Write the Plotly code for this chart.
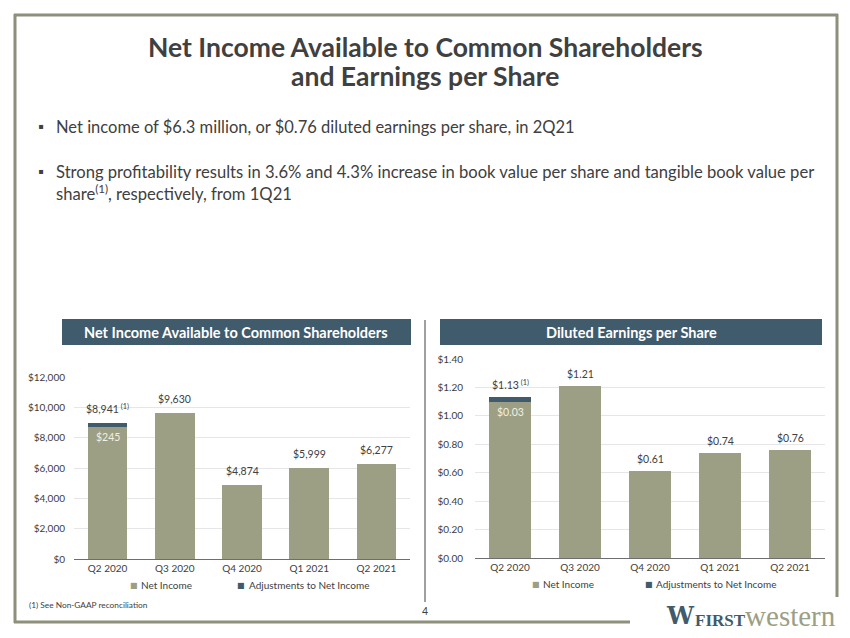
import plotly.graph_objects as go

W, H = 850, 638

# ---------------- data ----------------
quarters = ["Q2 2020", "Q3 2020", "Q4 2020", "Q1 2021", "Q2 2021"]
ni_net_income = [8696, 9630, 4874, 5999, 6277]
ni_adjustments = [245, 0, 0, 0, 0]
ni_totals = [8941, 9630, 4874, 5999, 6277]
eps_net_income = [1.10, 1.21, 0.61, 0.74, 0.76]
eps_adjustments = [0.03, 0, 0, 0, 0]
eps_totals = [1.13, 1.21, 0.61, 0.74, 0.76]
series_names = ["Net Income", "Adjustments to Net Income"]

OLIVE = "#9c9f84"
SLATE = "#3f5b6c"
TXT = "#404040"
FRAME = "#8e907b"
FONT = "Lato"


def px(x):
    return x / W


def py(y):
    return 1 - y / H


fig = go.Figure()

# left chart
fig.add_trace(go.Bar(x=quarters, y=ni_net_income, name=series_names[0], marker_color=OLIVE,
                     xaxis="x", yaxis="y", showlegend=False, hoverinfo="skip"))
fig.add_trace(go.Bar(x=quarters, y=ni_adjustments, name=series_names[1], marker_color=SLATE,
                     xaxis="x", yaxis="y", showlegend=False, hoverinfo="skip"))
# right chart
fig.add_trace(go.Bar(x=quarters, y=eps_net_income, name=series_names[0], marker_color=OLIVE,
                     xaxis="x2", yaxis="y2", showlegend=False, hoverinfo="skip"))
fig.add_trace(go.Bar(x=quarters, y=eps_adjustments, name=series_names[1], marker_color=SLATE,
                     xaxis="x2", yaxis="y2", showlegend=False, hoverinfo="skip"))

annotations = []


def note(x, y, text, size, color=TXT, xanchor="center", yanchor="middle", family=FONT, **kw):
    annotations.append(dict(x=px(x), y=py(y), xref="paper", yref="paper", showarrow=False,
                            xanchor=xanchor, yanchor=yanchor, text=text,
                            font=dict(family=family, size=size, color=color), **kw))


# value labels above bars
lab_font = dict(family=FONT, size=10.5, color=TXT)
for i, q in enumerate(quarters):
    t = f"${ni_totals[i]:,}"
    if ni_adjustments[i]:
        t += "<sup> (1)</sup>"
    annotations.append(dict(x=q, y=ni_totals[i], xref="x", yref="y", text=t, showarrow=False,
                            xanchor="center", yanchor="bottom", yshift=6, font=lab_font))
    t2 = f"${eps_totals[i]:.2f}"
    if eps_adjustments[i]:
        t2 += "<sup> (1)</sup>"
    annotations.append(dict(x=q, y=eps_totals[i], xref="x2", yref="y2", text=t2, showarrow=False,
                            xanchor="center", yanchor="bottom", yshift=4, font=lab_font))
    if ni_adjustments[i]:
        annotations.append(dict(x=q, y=ni_net_income[i], xref="x", yref="y",
                                text=f"${ni_adjustments[i]:,}", showarrow=False,
                                xanchor="center", yanchor="top", yshift=-2,
                                font=dict(family=FONT, size=10.5, color="#f2f0e0")))
    if eps_adjustments[i]:
        annotations.append(dict(x=q, y=eps_net_income[i], xref="x2", yref="y2",
                                text=f"${eps_adjustments[i]:.2f}", showarrow=False,
                                xanchor="center", yanchor="top", yshift=-2,
                                font=dict(family=FONT, size=10.5, color="#f2f0e0")))

# title
note(425, 47, "<b>Net Income Available to Common Shareholders</b>", 26.5)
note(425, 76, "<b>and Earnings per Share</b>", 26.5)

# bullets
note(36, 126, "\u25aa", 15, xanchor="left")
note(54, 127, "Net income of $6.3 million, or $0.76 diluted earnings per share, in 2Q21", 16.5,
     xanchor="left")
note(36, 171, "\u25aa", 15, xanchor="left")
note(54, 172, "Strong profitability results in 3.6% and 4.3% increase in book value per share and tangible book value per",
     16.6, xanchor="left")
note(54, 193, "share<sup>(1)</sup>, respectively, from 1Q21", 16.6, xanchor="left")

# banner texts
note(236, 332, "<b>Net Income Available to Common Shareholders</b>", 14.5, color="white")
note(631, 332, "<b>Diluted Earnings per Share</b>", 14.5, color="white")

# legends (drawn as text keyed to the series)
leg_items = [
    (134, 585, 139, OLIVE, series_names[0]),
    (241, 585, 247, SLATE, series_names[1]),
    (536, 584, 541, OLIVE, series_names[0]),
    (649, 584, 654, SLATE, series_names[1]),
]
for sx, sy, tx, col, name in leg_items:
    note(sx, sy, "\u25a0", 8, color=col, family="DejaVu Sans")
    note(tx, sy, name, 10, xanchor="left")

# footnote and page number
note(27, 605, "(1) See Non-GAAP reconciliation", 8.3, xanchor="left")
note(425, 611, "4", 10.5)

# logo
note(664, 615, "<b>W</b>", 24, color=SLATE, xanchor="left", family="DejaVu Serif")
note(693, 616, "<span style='color:%s;font-size:17px'><b>FIRST</b></span><span style='color:%s;font-size:29px'>western</span>" % (SLATE, OLIVE),
     29, color=OLIVE, xanchor="left", family="Liberation Serif")

shapes = [
    # frame
    dict(type="line", xref="paper", yref="paper", x0=px(14), x1=px(838), y0=py(15), y1=py(15),
         line=dict(color=FRAME, width=3)),
    dict(type="line", xref="paper", yref="paper", x0=px(15), x1=px(15), y0=py(14), y1=py(623),
         line=dict(color=FRAME, width=3)),
    dict(type="line", xref="paper", yref="paper", x0=px(14), x1=px(630), y0=py(622), y1=py(622),
         line=dict(color=FRAME, width=3)),
    dict(type="line", xref="paper", yref="paper", x0=px(837), x1=px(837), y0=py(14), y1=py(597),
         line=dict(color=FRAME, width=3)),
    # banners
    dict(type="rect", xref="paper", yref="paper", x0=px(62), x1=px(411), y0=py(319), y1=py(345),
         fillcolor=SLATE, line=dict(width=0), layer="below"),
    dict(type="rect", xref="paper", yref="paper", x0=px(440), x1=px(822), y0=py(319), y1=py(345),
         fillcolor=SLATE, line=dict(width=0), layer="below"),
    # divider
    dict(type="line", xref="paper", yref="paper", x0=px(425), x1=px(425), y0=py(320), y1=py(602),
         line=dict(color=TXT, width=1)),
]

axis_font = dict(family=FONT, size=10, color=TXT)

fig.update_layout(
    template="none",
    width=W, height=H,
    autosize=False,
    margin=dict(l=0, r=0, t=0, b=0, pad=0, autoexpand=False),
    paper_bgcolor="white", plot_bgcolor="white",
    barmode="stack",
    bargap=0.41,
    font=dict(family=FONT, color=TXT),
    annotations=annotations,
    shapes=shapes,
    showlegend=False,
    xaxis=dict(domain=[px(74), px(410)], anchor="y", showgrid=False, showline=True,
               linecolor="#6e6e6e", linewidth=1, ticks="", tickfont=axis_font, fixedrange=True,
               automargin=False),
    yaxis=dict(domain=[py(559), py(377)], anchor="x", range=[0, 12000], dtick=2000,
               tickprefix="$", tickformat=",", showgrid=True, gridcolor="#e6e6e6",
               zeroline=False, tickfont=axis_font, ticks="", fixedrange=True,
               ticklabelstandoff=8, automargin=False, showline=False),
    xaxis2=dict(domain=[px(475), px(825)], anchor="y2", showgrid=False, showline=True,
                linecolor="#6e6e6e", linewidth=1, ticks="", tickfont=axis_font, fixedrange=True,
                automargin=False),
    yaxis2=dict(domain=[py(558), py(359)], anchor="x2", range=[0, 1.4], dtick=0.2,
                tickprefix="$", tickformat=".2f", showgrid=True, gridcolor="#e6e6e6",
                zeroline=False, tickfont=axis_font, ticks="", fixedrange=True,
                ticklabelstandoff=11, automargin=False, showline=False),
)

fig.write_html("out.html", config={"displayModeBar": False},
               post_script="document.body.style.margin='0';document.body.style.overflow='hidden';")
